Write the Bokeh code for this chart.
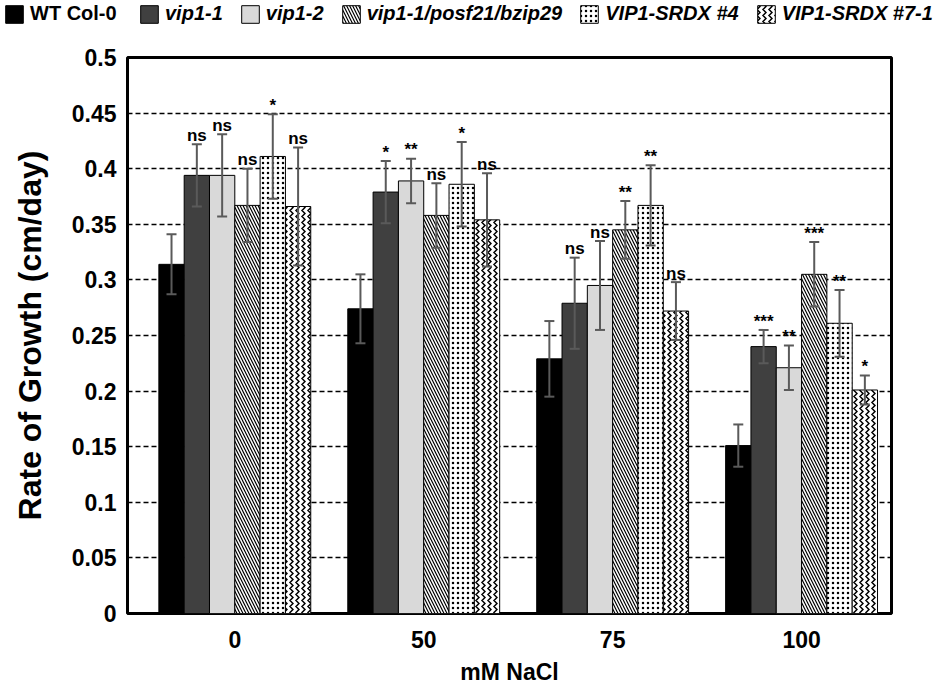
import numpy as np
from bokeh.plotting import figure
from bokeh.layouts import column, row
from bokeh.models import (ColumnDataSource, Range1d, FixedTicker, Whisker, TeeHead,
                          Legend, LegendItem)
from bokeh.core.properties import value
from bokeh.embed import file_html
from bokeh.resources import INLINE

# ---------------- data ----------------
concentrations = ["0", "50", "75", "100"]
genotypes = ["WT Col-0", "vip1-1", "vip1-2", "vip1-1/posf21/bzip29",
             "VIP1-SRDX #4", "VIP1-SRDX #7-1"]

wt_mean = [0.314, 0.274, 0.229, 0.151]
wt_err = [0.027, 0.031, 0.034, 0.019]
vip11_mean = [0.394, 0.379, 0.279, 0.240]
vip11_err = [0.028, 0.028, 0.041, 0.015]
vip12_mean = [0.394, 0.389, 0.295, 0.221]
vip12_err = [0.037, 0.020, 0.040, 0.020]
triple_mean = [0.367, 0.358, 0.345, 0.305]
triple_err = [0.033, 0.029, 0.026, 0.029]
srdx4_mean = [0.411, 0.386, 0.367, 0.261]
srdx4_err = [0.038, 0.038, 0.036, 0.030]
srdx71_mean = [0.366, 0.354, 0.272, 0.201]
srdx71_err = [0.053, 0.042, 0.026, 0.013]

wt_sig = ["", "", "", ""]
vip11_sig = ["ns", "*", "ns", "***"]
vip12_sig = ["ns", "**", "ns", "**"]
triple_sig = ["ns", "ns", "**", "***"]
srdx4_sig = ["*", "*", "**", "**"]
srdx71_sig = ["ns", "ns", "ns", "*"]

ytick_values = [0, 0.05, 0.1, 0.15, 0.2, 0.25, 0.3, 0.35, 0.4, 0.45, 0.5]
ytick_labels = ["0", "0.05", "0.1", "0.15", "0.2", "0.25", "0.3", "0.35", "0.4", "0.45", "0.5"]

means = [wt_mean, vip11_mean, vip12_mean, triple_mean, srdx4_mean, srdx71_mean]
errs = [wt_err, vip11_err, vip12_err, triple_err, srdx4_err, srdx71_err]
sigs = [wt_sig, vip11_sig, vip12_sig, triple_sig, srdx4_sig, srdx71_sig]

# ---------------- styles ----------------
FONT = "Liberation Sans"
fills = ["black", "#404040", "#d9d9d9", "white", "white", "white"]
hatches = [None, None, None, "left_diagonal_line", "dot", "vertical_wave"]
hatch_scales = [None, None, None, 6, 5, 6]
hatch_weights = [None, None, None, 1.2, 0.8, 1.5]
bw = 0.134
W = 948

def bar_style(j):
    kw = dict(fill_color=fills[j], line_color="black", line_width=1)
    if hatches[j]:
        kw.update(hatch_pattern=hatches[j], hatch_color="black",
                  hatch_scale=hatch_scales[j], hatch_weight=hatch_weights[j])
    return kw

# ---------------- main chart ----------------
p = figure(width=W, height=659, output_backend="svg", toolbar_location=None,
           x_range=Range1d(-0.568, 3.476), y_range=Range1d(0, 0.5),
           min_border_left=127, min_border_right=57, min_border_top=27,
           min_border_bottom=76)
p.background_fill_color = "white"
p.border_fill_color = "white"
p.outline_line_color = "black"
p.outline_line_width = 3

for j in range(6):
    x = np.arange(len(concentrations)) + (j - 2.5) * bw
    m = np.array(means[j])
    e = np.array(errs[j])
    src = ColumnDataSource(dict(x=x, top=m, upper=m + e, lower=m - e,
                                sig=sigs[j], label_y=m + e + 0.008))
    p.vbar(x="x", top="top", width=bw, source=src, **bar_style(j))
    w = Whisker(source=src, base="x", upper="upper", lower="lower",
                line_color="#5a5a5a", line_width=2, level="annotation",
                upper_head=TeeHead(size=10, line_color="#5a5a5a", line_width=2),
                lower_head=TeeHead(size=10, line_color="#5a5a5a", line_width=2))
    p.add_layout(w)
    p.text(x="x", y="label_y", text="sig", source=src, text_align="center",
           text_baseline="alphabetic", text_font=value(FONT),
           text_font_style="bold", text_font_size="17px", text_color="black")

p.xaxis.ticker = FixedTicker(ticks=list(range(len(concentrations))))
p.xaxis.major_label_overrides = {i: c for i, c in enumerate(concentrations)}
p.yaxis.ticker = FixedTicker(ticks=ytick_values)
p.yaxis.major_label_overrides = dict(zip(ytick_values, ytick_labels))

for ax in (p.xaxis[0], p.yaxis[0]):
    ax.axis_line_color = None
    ax.major_tick_line_color = None
    ax.minor_tick_line_color = None
    ax.major_tick_out = 0
    ax.major_tick_in = 0
    ax.major_label_text_font = FONT
    ax.major_label_text_font_style = "bold"
    ax.major_label_text_font_size = "23px"
    ax.major_label_text_color = "black"
    ax.axis_label_text_font = FONT
    ax.axis_label_text_font_style = "bold"
    ax.axis_label_text_color = "black"

p.xaxis.axis_label = "mM NaCl"
p.xaxis.axis_label_text_font_size = "23px"
p.xaxis.major_label_standoff = 17
p.xaxis.axis_label_standoff = 8
p.yaxis.axis_label = "Rate of Growth (cm/day)"
p.yaxis.axis_label_text_font_size = "32px"
p.yaxis.major_label_standoff = 11
p.yaxis.axis_label_standoff = 21

p.xgrid.grid_line_color = None
p.ygrid.ticker = FixedTicker(ticks=ytick_values[1:-1])
p.ygrid.grid_line_color = "black"
p.ygrid.grid_line_dash = "5 3"
p.ygrid.grid_line_width = 1.3

# ---------------- legend strip ----------------
lg = figure(width=W, height=30, output_backend="svg", toolbar_location=None,
            x_range=Range1d(0, 1), y_range=Range1d(0, 1), min_border=0,
            x_axis_location=None, y_axis_location=None)
lg.grid.visible = False
lg.outline_line_color = None
lg.border_fill_color = "white"

items = []
for j, g in enumerate(genotypes):
    # swatch-only renderer, kept outside the strip's visible range
    dummy = ColumnDataSource(dict(x=[5.0], top=[5.0]))
    r = lg.vbar(x="x", top="top", width=0.1, source=dummy, **bar_style(j))
    items.append(LegendItem(label=g, renderers=[r]))

def make_legend(its, loc, style):
    return Legend(items=its, location=loc, orientation="horizontal",
                  glyph_width=22, glyph_height=22, label_standoff=5, spacing=16,
                  padding=0, margin=0, border_line_alpha=0, background_fill_alpha=0,
                  label_text_font=FONT, label_text_font_style=style,
                  label_text_font_size="20px", label_height=22, label_text_color="black")

lg.add_layout(make_legend(items[:1], (3, 5), "bold"))
lg.add_layout(make_legend(items[1:], (138, 5), "bold italic"))

open("out.html", "w").write(file_html(column(row(lg), p), INLINE))
